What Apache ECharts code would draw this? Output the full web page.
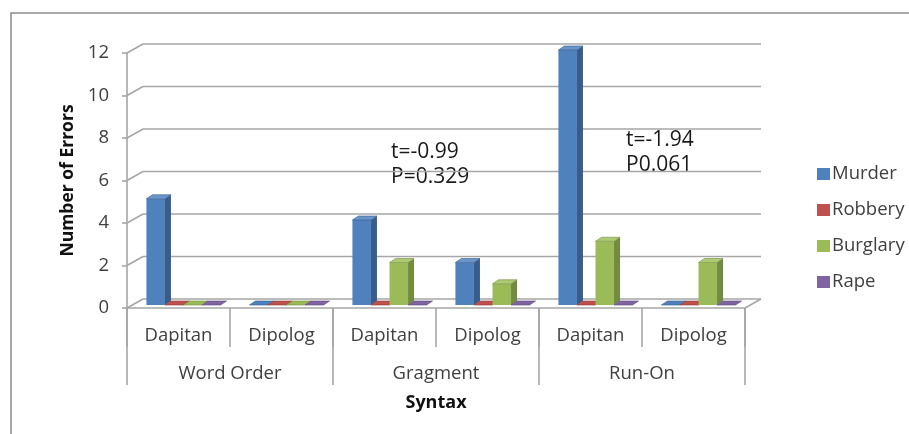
<!DOCTYPE html>
<html>
<head>
<meta charset="utf-8">
<script src="https://cdn.jsdelivr.net/npm/echarts@6/dist/echarts.min.js"></script>
<style>
  html, body { margin: 0; padding: 0; background: #fff; }
  #chart { width: 909px; height: 434px; }
</style>
</head>
<body>
<div id="chart"></div>
<script>
// Syntax errors by offender group and location
const places = ['Dapitan', 'Dipolog', 'Dapitan', 'Dipolog', 'Dapitan', 'Dipolog'];
const syntaxTypes = ['Word Order', 'Gragment', 'Run-On'];
const murder   = [5, 0, 4, 2, 12, 0];
const robbery  = [0, 0, 0, 0, 0, 0];
const burglary = [0, 0, 2, 1, 3, 2];
const rape     = [0, 0, 0, 0, 0, 0];
const yTicks = [0, 2, 4, 6, 8, 10, 12];
const testNotes = [['t=-0.99', 'P=0.329'], ['t=-1.94', 'P0.061']];

const FONT = '"Open Sans", "Noto Sans", sans-serif';
const TEXT = '#404040';
const AXIS = '#a6a6a6';

// depth of the back wall relative to the front plane
const WALL_DX = 16, WALL_DY = -9;
// bar body depth, and shift of bars into the middle of the floor
const BAR_DX = 6, BAR_DY = -4;
const BAR_SHIFT_X = 5, BAR_SHIFT_Y = -3;

const palette = [
  { name: 'Murder',   front: '#4F81BD', side: '#385D8A', top: '#6A95C9' },
  { name: 'Robbery',  front: '#C0504D', side: '#8E3B39', top: '#CD6E6B' },
  { name: 'Burglary', front: '#9BBB59', side: '#728A42', top: '#AECB74' },
  { name: 'Rape',     front: '#8064A2', side: '#5E4A78', top: '#977FB5' }
];
const seriesValues = [murder, robbery, burglary, rape];

function barRenderer(idx) {
  const c = palette[idx];
  return function (params, api) {
    const cat = api.value(0), v = api.value(1);
    const base = api.coord([cat, 0]);
    const top = api.coord([cat, v]);
    const band = api.size([1, 0])[0];
    const slot = band * 0.18;
    const x = base[0] - slot * 2 + idx * slot + BAR_SHIFT_X;
    const y0 = base[1] + BAR_SHIFT_Y;
    const y1 = top[1] + BAR_SHIFT_Y;
    const w = slot;
    const children = [];
    if (y0 - y1 > 0.5) {
      children.push({
        type: 'polygon',
        shape: { points: [[x, y0], [x + w, y0], [x + w, y1], [x, y1]] },
        style: { fill: c.front }
      });
      children.push({
        type: 'polygon',
        shape: { points: [[x + w, y0], [x + w + BAR_DX, y0 + BAR_DY], [x + w + BAR_DX, y1 + BAR_DY], [x + w, y1]] },
        style: { fill: c.side }
      });
    }
    children.push({
      type: 'polygon',
      shape: { points: [[x, y1], [x + w, y1], [x + w + BAR_DX, y1 + BAR_DY], [x + BAR_DX, y1 + BAR_DY]] },
      style: { fill: y0 - y1 > 0.5 ? c.top : c.front, stroke: c.side, lineWidth: 0.6 }
    });
    return { type: 'group', children: children };
  };
}

// back wall grid lines, the left side wall diagonals and the right floor edge
function wallRenderer(params, api) {
  const cs = params.coordSys;
  const t = api.value(0);
  const y = api.coord([0, t])[1];
  const x0 = cs.x, x1 = cs.x + cs.width;
  const style = { stroke: AXIS, lineWidth: 1.6 };
  const children = [
    { type: 'line', shape: { x1: x0, y1: y, x2: x0 + WALL_DX, y2: y + WALL_DY }, style: style },
    { type: 'line', shape: { x1: x0 + WALL_DX, y1: y + WALL_DY, x2: x1 + WALL_DX, y2: y + WALL_DY }, style: style }
  ];
  if (t === 0) {
    children.push({ type: 'line', shape: { x1: x1, y1: y, x2: x1 + WALL_DX, y2: y + WALL_DY }, style: style });
  }
  return { type: 'group', children: children };
}

const series = [{
  type: 'custom',
  name: 'wall',
  renderItem: wallRenderer,
  data: yTicks.map(t => [t]),
  encode: { y: 0 },
  silent: true,
  z: 1
}];
palette.forEach((c, i) => {
  series.push({
    type: 'custom',
    name: c.name,
    renderItem: barRenderer(i),
    itemStyle: { color: c.front },
    data: seriesValues[i].map((v, k) => [k, v]),
    encode: { x: 0, y: 1 },
    z: 3
  });
});

const chart = echarts.init(document.getElementById('chart'), null, { renderer: 'canvas' });
chart.setOption({
  animation: false,
  backgroundColor: '#fff',
  textStyle: { fontFamily: FONT },
  grid: { left: 127, right: 164, top: 53, bottom: 126 },
  xAxis: [{
    type: 'category',
    data: places,
    axisLine: { show: true, lineStyle: { color: AXIS, width: 1.6 } },
    axisTick: { show: true, length: 39, lineStyle: { color: AXIS, width: 1.6 } },
    axisLabel: { color: TEXT, fontSize: 18.5, margin: 18, fontFamily: FONT },
    splitLine: { show: false }
  }, {
    type: 'category',
    data: syntaxTypes,
    position: 'bottom',
    offset: 0,
    name: 'Syntax',
    nameLocation: 'middle',
    nameGap: 86,
    nameTextStyle: { color: '#111', fontSize: 18, fontWeight: 'bold', fontFamily: FONT },
    axisLine: { show: false },
    axisTick: { show: true, length: 77, lineStyle: { color: AXIS, width: 1.6 } },
    axisLabel: { color: TEXT, fontSize: 18.5, margin: 56, fontFamily: FONT },
    splitLine: { show: false }
  }],
  yAxis: {
    type: 'value',
    min: 0,
    max: 12,
    interval: 2,
    name: 'Number of Errors',
    nameLocation: 'middle',
    nameGap: 41,
    nameRotate: 90,
    nameTextStyle: { color: '#111', fontSize: 17.5, fontWeight: 'bold', fontFamily: FONT },
    axisLine: { show: true, lineStyle: { color: AXIS, width: 1.6 } },
    axisTick: { show: true, inside: false, length: 5, lineStyle: { color: AXIS, width: 1.6 } },
    axisLabel: { color: TEXT, fontSize: 18.5, margin: 18, fontFamily: FONT },
    splitLine: { show: false }
  },
  legend: {
    data: palette.map(c => c.name),
    orient: 'vertical',
    left: 812,
    top: 159,
    icon: 'rect',
    itemWidth: 13,
    itemHeight: 12,
    itemGap: 16,
    textStyle: { color: TEXT, fontSize: 18.5, lineHeight: 20, fontFamily: FONT, padding: [0, 0, 0, -3] }
  },
  graphic: [
    {
      type: 'rect',
      shape: { x: 11, y: 13, width: 1000, height: 1000 },
      style: { fill: 'none', stroke: '#8c8c8c', lineWidth: 1.5 },
      silent: true
    },
    {
      type: 'text',
      left: 391,
      top: 140,
      style: { text: testNotes[0].join('\n'), fill: '#1a1a1a', font: '21px ' + FONT, lineHeight: 25 }
    },
    {
      type: 'text',
      left: 626,
      top: 128,
      style: { text: testNotes[1].join('\n'), fill: '#1a1a1a', font: '21px ' + FONT, lineHeight: 25 }
    }
  ],
  series: series
});
</script>
</body>
</html>
